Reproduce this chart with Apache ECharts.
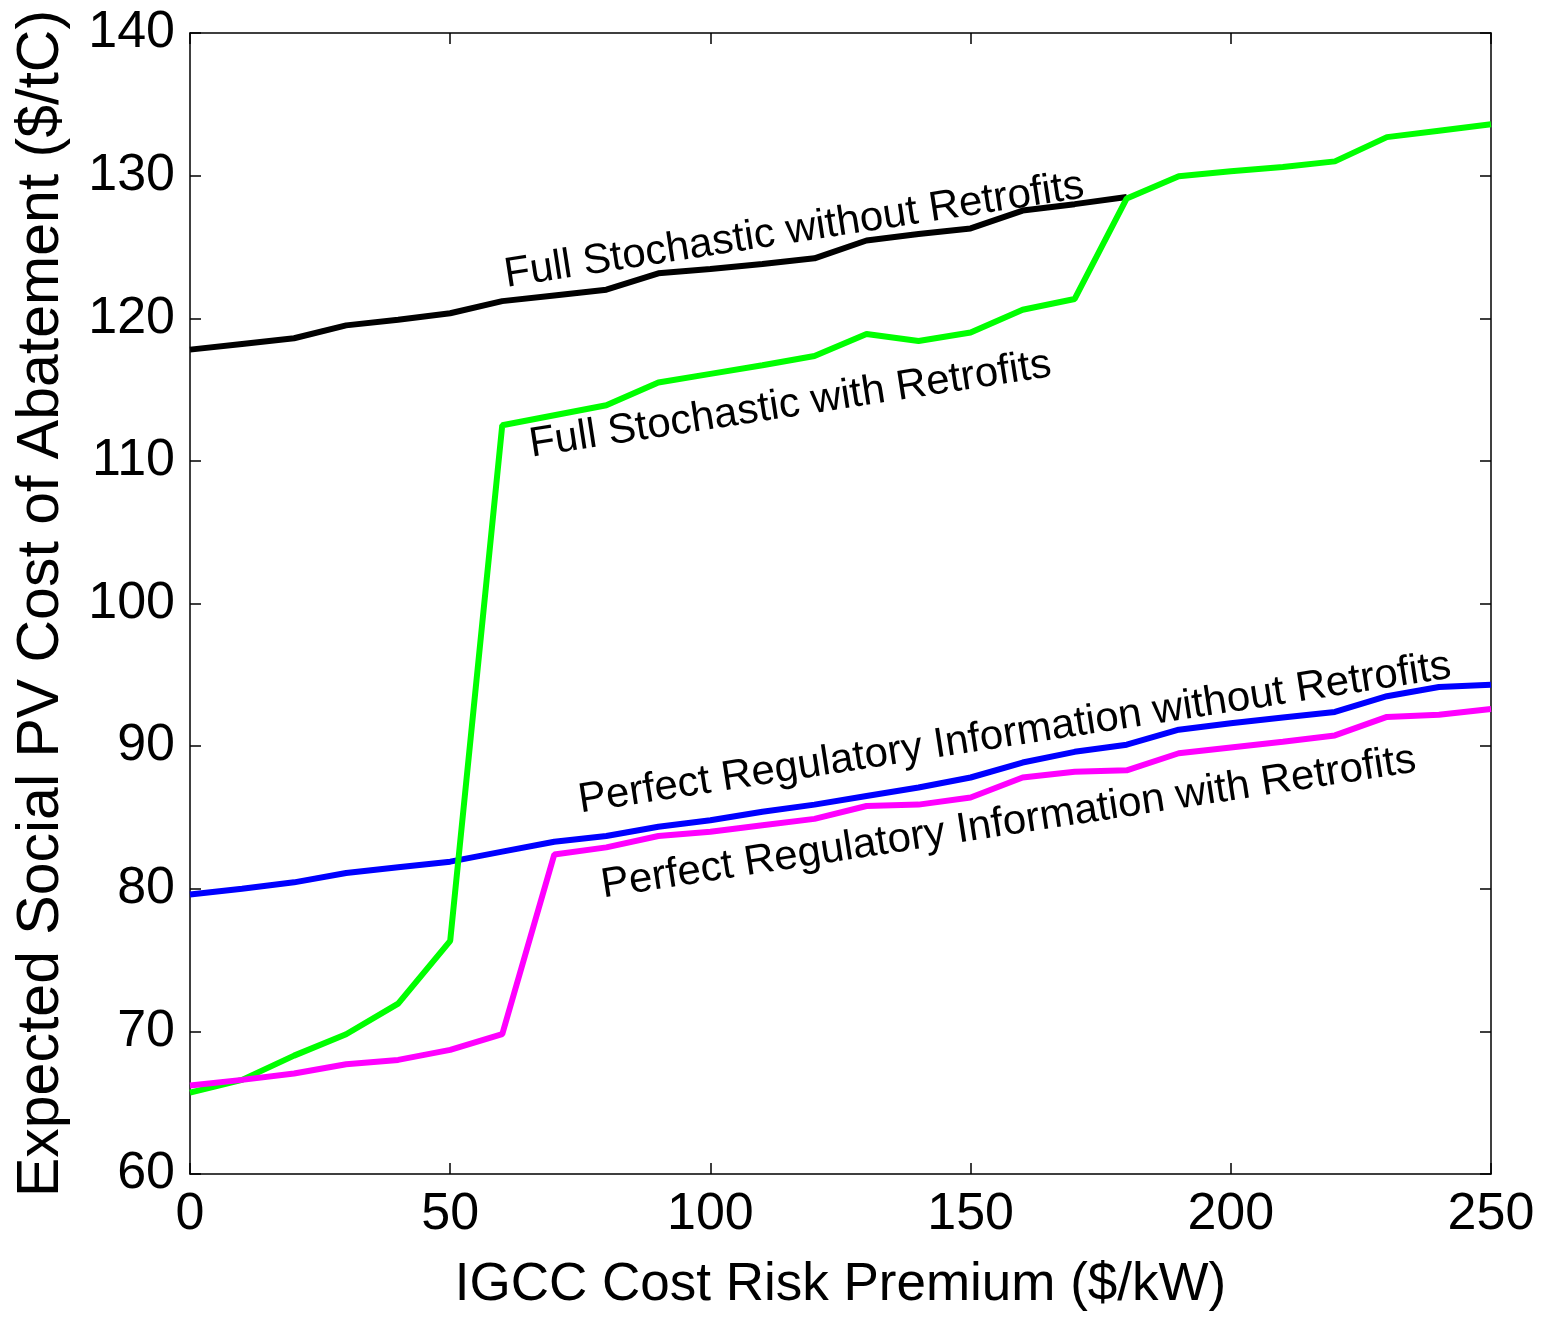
<!DOCTYPE html>
<html>
<head>
<meta charset="utf-8">
<script src="https://cdn.jsdelivr.net/npm/echarts@6/dist/echarts.min.js"></script>
<style>
  html, body { margin: 0; padding: 0; background: #fff; }
  #chart_container { width: 1545px; height: 1317px; }
</style>
</head>
<body>
<div id="chart_container"></div>
<script>
// IGCC cost risk premium ($/kW), every 10 from 0 to 250
const premium = [0, 10, 20, 30, 40, 50, 60, 70, 80, 90, 100, 110, 120, 130, 140, 150, 160, 170, 180, 190, 200, 210, 220, 230, 240, 250];

// expected social PV cost of abatement ($/tC)
const fullNoRetro = [117.8, 118.2, 118.6, 119.5, 119.9, 120.35, 121.2, 121.6, 122.0, 123.15, 123.45, 123.8, 124.2, 125.45, 125.9, 126.3, 127.55, 128.0, 128.5];
const fullRetro = [65.7, 66.6, 68.3, 69.8, 71.95, 76.35, 112.5, 113.2, 113.9, 115.5, 116.1, 116.7, 117.35, 118.9, 118.4, 119.0, 120.6, 121.35, 128.4, 129.95, 130.3, 130.6, 131.0, 132.7, 133.15, 133.6];
const perfNoRetro = [79.6, 80.0, 80.45, 81.1, 81.5, 81.9, 82.6, 83.3, 83.7, 84.35, 84.8, 85.4, 85.9, 86.5, 87.1, 87.8, 88.85, 89.6, 90.1, 91.15, 91.6, 92.0, 92.4, 93.5, 94.15, 94.3];
const perfRetro = [66.2, 66.6, 67.05, 67.7, 68.0, 68.7, 69.8, 82.4, 82.9, 83.7, 84.0, 84.45, 84.9, 85.8, 85.9, 86.4, 87.8, 88.2, 88.3, 89.5, 89.9, 90.3, 90.75, 92.05, 92.2, 92.6];

// in-plot curve labels: text and data-space anchor (start of baseline)
const labelTexts = ["Full Stochastic without Retrofits", "Full Stochastic with Retrofits", "Perfect Regulatory Information without Retrofits", "Perfect Regulatory Information with Retrofits"];
const labelAnchors = [[61.1, 122.1], [65.9, 110.2], [75.3, 85.25], [79.7, 79.3]];

const FONT = '"Liberation Sans", Arial, Helvetica, sans-serif';

function pairs(xs, ys) {
    let out = [];
    for (let i = 0; i < ys.length; i++) out.push([xs[i], ys[i]]);
    return out;
}

function lineSeries(name, values, color) {
    return {
        name: name,
        type: 'line',
        data: pairs(premium, values),
        showSymbol: false,
        symbol: 'none',
        lineStyle: { color: color, width: 6 },
        animation: false
    };
}

function axisLine() {
    return { show: true, onZero: false, lineStyle: { color: '#000', width: 1.5 } };
}
function ticks(inside) {
    return { show: true, inside: inside, length: 11, lineStyle: { color: '#000', width: 1.5 } };
}

document.addEventListener("DOMContentLoaded", function () {
    let chart_container = document.getElementById('chart_container');
    var chart = echarts.init(chart_container);

    var option = {
        backgroundColor: '#fff',
        animation: false,
        grid: { left: 190, right: 54, top: 33, bottom: 140 },
        xAxis: [
            {
                type: 'value', min: 0, max: 250, interval: 50, position: 'bottom',
                name: 'IGCC Cost Risk Premium ($/kW)', nameLocation: 'middle', nameGap: 85,
                nameTextStyle: { fontSize: 53, fontFamily: FONT, color: '#000' },
                axisLine: axisLine(), axisTick: ticks(true),
                axisLabel: { fontSize: 52, fontFamily: FONT, color: '#000', margin: 15 },
                splitLine: { show: false }
            },
            {
                type: 'value', min: 0, max: 250, interval: 50, position: 'top',
                axisLine: axisLine(), axisTick: ticks(true), axisLabel: { show: false }, splitLine: { show: false }
            }
        ],
        yAxis: [
            {
                type: 'value', min: 60, max: 140, interval: 10, position: 'left',
                name: 'Expected Social PV Cost of Abatement ($/tC)', nameLocation: 'middle', nameGap: 119,
                nameTextStyle: { fontSize: 59, fontFamily: FONT, color: '#000' },
                axisLine: axisLine(), axisTick: { show: false },
                axisLabel: { fontSize: 52, fontFamily: FONT, color: '#000', margin: 15 },
                splitLine: { show: false }
            },
            {
                type: 'value', min: 60, max: 140, interval: 10, position: 'right',
                axisLine: axisLine(), axisTick: ticks(true), axisLabel: { show: false }, splitLine: { show: false }
            },
            {
                // sits on x = 0 and carries the inward ticks of the left frame edge
                type: 'value', min: 60, max: 140, interval: 10, position: 'right',
                axisLine: { show: false, onZero: true }, axisTick: ticks(false), axisLabel: { show: false }, splitLine: { show: false }
            }
        ],
        series: [
            lineSeries('Full Stochastic without Retrofits', fullNoRetro, '#000000'),
            lineSeries('Perfect Regulatory Information without Retrofits', perfNoRetro, '#0000ff'),
            lineSeries('Full Stochastic with Retrofits', fullRetro, '#00ff00'),
            lineSeries('Perfect Regulatory Information with Retrofits', perfRetro, '#ff00ff')
        ]
    };
    chart.setOption(option);

    // rotated curve labels placed from data coordinates
    const angle = 8.8 * Math.PI / 180;
    let texts = labelTexts.map(function (t, i) {
        let p = chart.convertToPixel({ gridIndex: 0 }, labelAnchors[i]);
        return {
            type: 'text',
            x: p[0], y: p[1] + 8,
            rotation: angle,
            z: 100,
            style: {
                text: t,
                fill: '#000',
                font: '42px ' + FONT,
                align: 'left',
                verticalAlign: 'bottom'
            }
        };
    });
    chart.setOption({ graphic: texts });
});
</script>
</body>
</html>
